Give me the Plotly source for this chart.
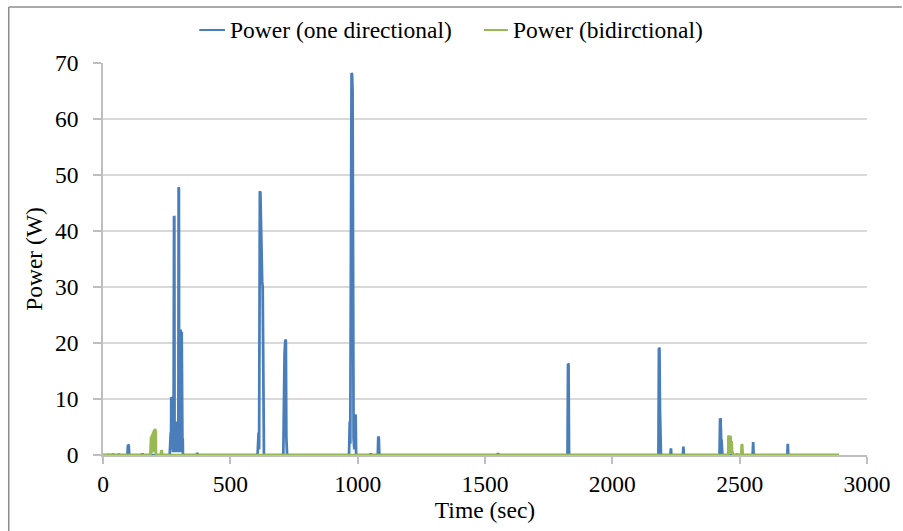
import plotly.graph_objects as go

# Power trace, one directional mode: time (s) and power (W)
one_dir_time = [0, 37, 39, 41, 60, 62, 64, 96, 98, 101, 103, 153, 155, 157,
                262, 264, 265, 266, 267, 268, 269, 270, 271, 272,
                273, 274, 275, 276, 277,
                279, 280, 281, 282, 283, 284, 285, 286, 287, 288,
                289, 290, 291, 292, 293, 294, 295, 296, 297, 298,
                299, 300, 301, 302, 303, 304, 305, 306, 307, 308,
                309, 310, 311, 312, 313, 314,
                368, 370, 372,
                607, 611, 613, 616, 618, 621, 623, 625, 627, 629, 632,
                708, 711, 713, 716, 718, 720, 723,
                966, 969, 971, 974, 976, 978, 980, 982, 984, 987, 990, 992, 994,
                1049, 1051, 1053, 1079, 1081, 1083, 1085,
                1549, 1551, 1553, 1824, 1826, 1828, 1830,
                2181, 2183, 2185, 2187, 2189, 2191,
                2228, 2230, 2232, 2277, 2279, 2281,
                2421, 2423, 2425, 2427, 2429, 2432,
                2551, 2553, 2555, 2687, 2689, 2691, 2890]
one_dir_power = [0, 0, 0.25, 0, 0, 0.2, 0, 0, 1.8, 1.7, 0, 0, 0.3, 0,
                 0, 3, 0.5, 4, 1, 10.3, 2, 10.2, 3, 10,
                 1, 6, 0.5, 5, 1,
                 42.7, 42.5, 4, 5, 1, 6, 0.5, 5.7, 1, 6,
                 0.5, 5.5, 1, 6, 0.5, 5, 1, 3, 47.8, 47.6,
                 5, 2, 6, 1, 5, 0.5, 22.4, 3, 22.2, 2,
                 22, 1, 4, 0.5, 3, 0,
                 0, 0.4, 0,
                 0, 4, 1, 47.1, 46.8, 40, 31.5, 31, 30, 4, 0,
                 0, 18, 18.2, 20.6, 20.4, 3, 0,
                 0, 6, 2, 37, 68.2, 68, 65, 30, 3, 1, 7.2, 7, 0,
                 0, 0.3, 0, 0, 3.3, 3.1, 0,
                 0, 0.35, 0, 0, 16.3, 16.2, 0,
                 0, 19.1, 19, 8, 2, 0,
                 0, 1.2, 0, 0, 1.5, 0,
                 0, 6.5, 6.4, 3, 2.5, 0,
                 0, 2.3, 0, 0, 2.0, 0, 0]

# Power trace, bidirectional mode
bidir_time = [0, 18, 20, 22,
              186, 187, 188, 189, 190, 191, 192, 193, 194, 195,
              196, 197, 198, 199, 200, 201, 202, 203, 204, 205,
              206, 207, 208,
              227, 229, 231, 233, 2137, 2139, 2141,
              2455, 2456, 2457, 2458, 2459, 2460, 2461, 2462, 2463, 2464,
              2465, 2466, 2467, 2468, 2469, 2470, 2471, 2472, 2474,
              2488, 2490, 2492, 2506, 2508, 2510, 2512, 2890]
bidir_power = [0, 0, 0.2, 0,
               0, 3.0, 0.3, 3.3, 0.3, 3.5, 0.5, 3.7, 0.5, 4.0,
               0.5, 4.2, 0.5, 4.3, 0.5, 4.5, 0.5, 4.6, 0.5, 4.5,
               0.5, 4.4, 0,
               0, 0.8, 0.7, 0, 0, 0.1, 0,
               0, 3.5, 0.3, 3.5, 0.3, 3.5, 0.3, 3.5, 0.3, 3.4,
               0.3, 3.4, 0.3, 2.5, 0.3, 1.5, 0.2, 0.5, 0,
               0, 0.3, 0, 0, 1.9, 1.8, 0, 0]

assert len(one_dir_time) == len(one_dir_power)
assert len(bidir_time) == len(bidir_power)

series_names = ["Power (one directional)", "Power (bidirctional)"]
series_colors = ["#4a7ebb", "#98b954"]

x_ticks = [0, 500, 1000, 1500, 2000, 2500, 3000]
y_ticks = [0, 10, 20, 30, 40, 50, 60, 70]

FONT = "Liberation Serif"
FS = 23.5
GRID = "#d9d9d9"
AXIS = "#bfbfbf"

# plot-area geometry in pixels, used to place the key above the plot
W, H = 903, 531
ML, MR, MT, MB = 103, 30, 63, 76
PW, PH = W - ML - MR, H - MT - MB


def px_x(p):
    return (p - ML) / PW


def px_y(p):
    return 1 + (MT - p) / PH


fig = go.Figure()
fig.add_trace(go.Scatter(x=one_dir_time, y=one_dir_power, mode="lines",
                         name=series_names[0],
                         line=dict(color=series_colors[0], width=2.75)))
fig.add_trace(go.Scatter(x=bidir_time, y=bidir_power, mode="lines",
                         name=series_names[1],
                         line=dict(color=series_colors[1], width=2.75)))

# key: short coloured stroke followed by the series name
key_y = 30
key_entries = [(200, 226, 229), (487, 511, 514)]
shapes = []
annotations = []
for (x0, x1, xt), name, col in zip(key_entries, series_names, series_colors):
    shapes.append(dict(type="line", xref="paper", yref="paper",
                       x0=px_x(x0), x1=px_x(x1), y0=px_y(key_y), y1=px_y(key_y),
                       line=dict(color=col, width=2)))
    annotations.append(dict(xref="paper", yref="paper", x=px_x(xt), y=px_y(key_y),
                            xanchor="left", yanchor="middle", showarrow=False,
                            text=name, font=dict(family=FONT, size=FS, color="black")))

# frame lines on the left and top of the figure
shapes.append(dict(type="line", xref="paper", yref="paper", x0=px_x(8), x1=px_x(8),
                   y0=px_y(H + 5), y1=px_y(7), line=dict(color="#8c8c8c", width=1.5)))
shapes.append(dict(type="line", xref="paper", yref="paper", x0=px_x(8), x1=px_x(W + 5),
                   y0=px_y(7), y1=px_y(7), line=dict(color="#8c8c8c", width=1.5)))

fig.update_layout(
    width=W, height=H,
    margin=dict(l=ML, r=MR, t=MT, b=MB),
    paper_bgcolor="white", plot_bgcolor="white",
    font=dict(family=FONT, size=FS, color="black"),
    showlegend=False,
    xaxis=dict(range=[0, 3000], tickmode="array", tickvals=x_ticks,
               ticktext=[str(v) for v in x_ticks],
               showgrid=False, zeroline=False, showline=True, linecolor=AXIS, linewidth=1.5,
               ticks="outside", ticklen=7, tickcolor=AXIS, tickwidth=1.5,
               title=dict(text="Time (sec)", standoff=6,
                          font=dict(family=FONT, size=FS, color="black")),
               tickfont=dict(family=FONT, size=FS, color="black")),
    yaxis=dict(range=[0, 70], tickmode="array", tickvals=y_ticks,
               ticktext=[str(v) for v in y_ticks],
               showgrid=True, gridcolor=GRID, gridwidth=1.5, zeroline=False,
               showline=True, linecolor=AXIS, linewidth=1.5,
               ticks="outside", ticklen=8, tickcolor=AXIS, tickwidth=1.5,
               ticklabelstandoff=10,
               title=dict(text="Power (W)", standoff=6,
                          font=dict(family=FONT, size=FS, color="black")),
               tickfont=dict(family=FONT, size=FS, color="black")),
    shapes=shapes,
    annotations=annotations,
)

fig.write_html("out.html")
